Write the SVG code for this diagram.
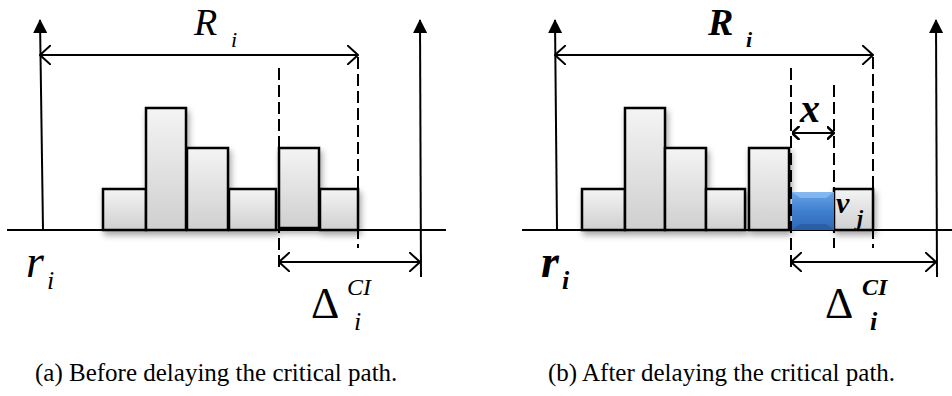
<svg xmlns="http://www.w3.org/2000/svg" width="952" height="396" viewBox="0 0 952 396">
<style>
.ax{stroke:#000;stroke-width:2;fill:none}
.dash{stroke:#000;stroke-width:2;stroke-dasharray:12,5;fill:none}
.bar{fill:url(#gbar);stroke:#000;stroke-width:2.5}
.t{font-family:"Liberation Serif","Times New Roman",serif;fill:#000}
.it{font-style:italic}
.bi{font-style:italic;font-weight:bold}
.cap{font-family:"Liberation Serif","Times New Roman",serif;font-size:25px;fill:#000}
</style>
<defs>
<linearGradient id="gbar" x1="0" y1="0" x2="0" y2="1">
<stop offset="0" stop-color="#f4f4f4"/><stop offset="1" stop-color="#cfcfcf"/>
</linearGradient>
<linearGradient id="gblue" x1="0" y1="0" x2="0" y2="1">
<stop offset="0" stop-color="#6aa4e8"/><stop offset="0.5" stop-color="#3f7fcf"/><stop offset="1" stop-color="#2f68b4"/>
</linearGradient>
<filter id="sh" x="-10%" y="-10%" width="120%" height="140%">
<feDropShadow dx="2" dy="4" stdDeviation="3" flood-color="#000" flood-opacity="0.35"/>
</filter>
<marker id="fa" viewBox="0 0 14 14" refX="13" refY="7" markerWidth="14" markerHeight="14" markerUnits="userSpaceOnUse" orient="auto">
<path d="M0,0 L14,7 L0,14 z" fill="#000"/>
</marker>
<marker id="oa" viewBox="0 0 12 20" refX="11" refY="10" markerWidth="12" markerHeight="20" markerUnits="userSpaceOnUse" orient="auto-start-reverse">
<path d="M0,0 L11,10 L0,20" fill="none" stroke="#000" stroke-width="2"/>
</marker>
<marker id="sa" viewBox="0 0 8 14" refX="7.5" refY="7" markerWidth="8" markerHeight="14" markerUnits="userSpaceOnUse" orient="auto-start-reverse">
<path d="M0,0 L7.5,7 L0,14" fill="none" stroke="#000" stroke-width="2.5"/>
</marker>
</defs>

<!-- Panel (a) -->
<g id="panel-a">
<g id="a-connectors">
<line class="ax" x1="43" y1="230" x2="40" y2="20" marker-end="url(#fa)"/>
<line class="ax" x1="421" y1="277" x2="420" y2="20" marker-end="url(#fa)"/>
<line class="ax" x1="7" y1="230" x2="446" y2="230"/>
<line class="ax" x1="40" y1="55" x2="358" y2="55" marker-start="url(#oa)" marker-end="url(#oa)"/>
<line class="ax" x1="279" y1="262" x2="420" y2="262" marker-start="url(#oa)" marker-end="url(#oa)"/>
<line class="dash" x1="279" y1="68" x2="279" y2="270"/>
<line class="dash" x1="358" y1="57" x2="358" y2="248"/>
</g>
<g id="a-bars" filter="url(#sh)">
<rect class="bar" x="103" y="189" width="43" height="41"/>
<rect class="bar" x="146" y="108" width="40" height="122"/>
<rect class="bar" x="187" y="148" width="41" height="82"/>
<rect class="bar" x="229" y="189" width="47" height="41"/>
<rect class="bar" x="279" y="148" width="40" height="80"/>
<rect class="bar" x="320" y="189" width="38" height="41"/>
</g>
<g id="a-labels">
<text class="t it" x="194" y="35" font-size="38">R</text>
<text class="t it" x="231" y="47" font-size="22">i</text>
<text class="t it" x="26" y="277" font-size="46">r</text>
<text class="t it" x="47" y="289" font-size="26">i</text>
<text class="t" x="311" y="318" font-size="44">Δ</text>
<text class="t it" x="347" y="295" font-size="24">CI</text>
<text class="t it" x="354" y="330" font-size="26">i</text>
</g>
</g>

<!-- Panel (b) -->
<g id="panel-b">
<g id="b-connectors">
<line class="ax" x1="557" y1="230" x2="555" y2="20" marker-end="url(#fa)"/>
<line class="ax" x1="937" y1="277" x2="936" y2="20" marker-end="url(#fa)"/>
<line class="ax" x1="522" y1="230" x2="952" y2="230"/>
<line class="ax" x1="555" y1="55" x2="873" y2="55" marker-start="url(#oa)" marker-end="url(#oa)"/>
<line class="ax" x1="791" y1="262" x2="936" y2="262" marker-start="url(#oa)" marker-end="url(#oa)"/>
<line class="ax" x1="792" y1="133" x2="834" y2="133" marker-start="url(#sa)" marker-end="url(#sa)"/>
<line class="dash" x1="791" y1="68" x2="791" y2="270"/>
<line class="dash" x1="834" y1="85" x2="834" y2="248"/>
<line class="dash" x1="873" y1="57" x2="873" y2="248"/>
</g>
<g id="b-bars" filter="url(#sh)">
<rect class="bar" x="582" y="189" width="43" height="41"/>
<rect class="bar" x="625" y="108" width="40" height="122"/>
<rect class="bar" x="665" y="148" width="41" height="82"/>
<rect class="bar" x="706" y="189" width="39" height="41"/>
<rect class="bar" x="749" y="148" width="40" height="82"/>
<rect class="bar" x="834" y="189" width="39" height="41"/>
</g>
<g id="b-node-vj">
<rect x="792" y="192" width="42" height="38" fill="url(#gblue)"/>
<path d="M792,192 L800,198 L826,198 L834,192 z" fill="#8ec0f5" opacity="0.7"/>
<path d="M792,230 L800,224 L826,224 L834,230 z" fill="#24569a" opacity="0.6"/>
<text class="t bi" x="836" y="213" font-size="30">v</text>
<text class="t bi" x="857" y="225" font-size="22">j</text>
</g>
<g id="b-labels">
<text class="t bi" x="708" y="35" font-size="38">R</text>
<text class="t bi" x="746" y="47" font-size="22">i</text>
<text class="t bi" x="800" y="122" font-size="40">x</text>
<text class="t bi" x="541" y="277" font-size="46">r</text>
<text class="t bi" x="562" y="289" font-size="26">i</text>
<text class="t" x="825" y="318" font-size="44">Δ</text>
<text class="t bi" x="862" y="295" font-size="24">CI</text>
<text class="t bi" x="870" y="330" font-size="26">i</text>
</g>
</g>

<g id="captions">
<text class="cap" x="35" y="381">(a) Before delaying the critical path.</text>
<text class="cap" x="548" y="381">(b) After delaying the critical path.</text>
</g>
</svg>
